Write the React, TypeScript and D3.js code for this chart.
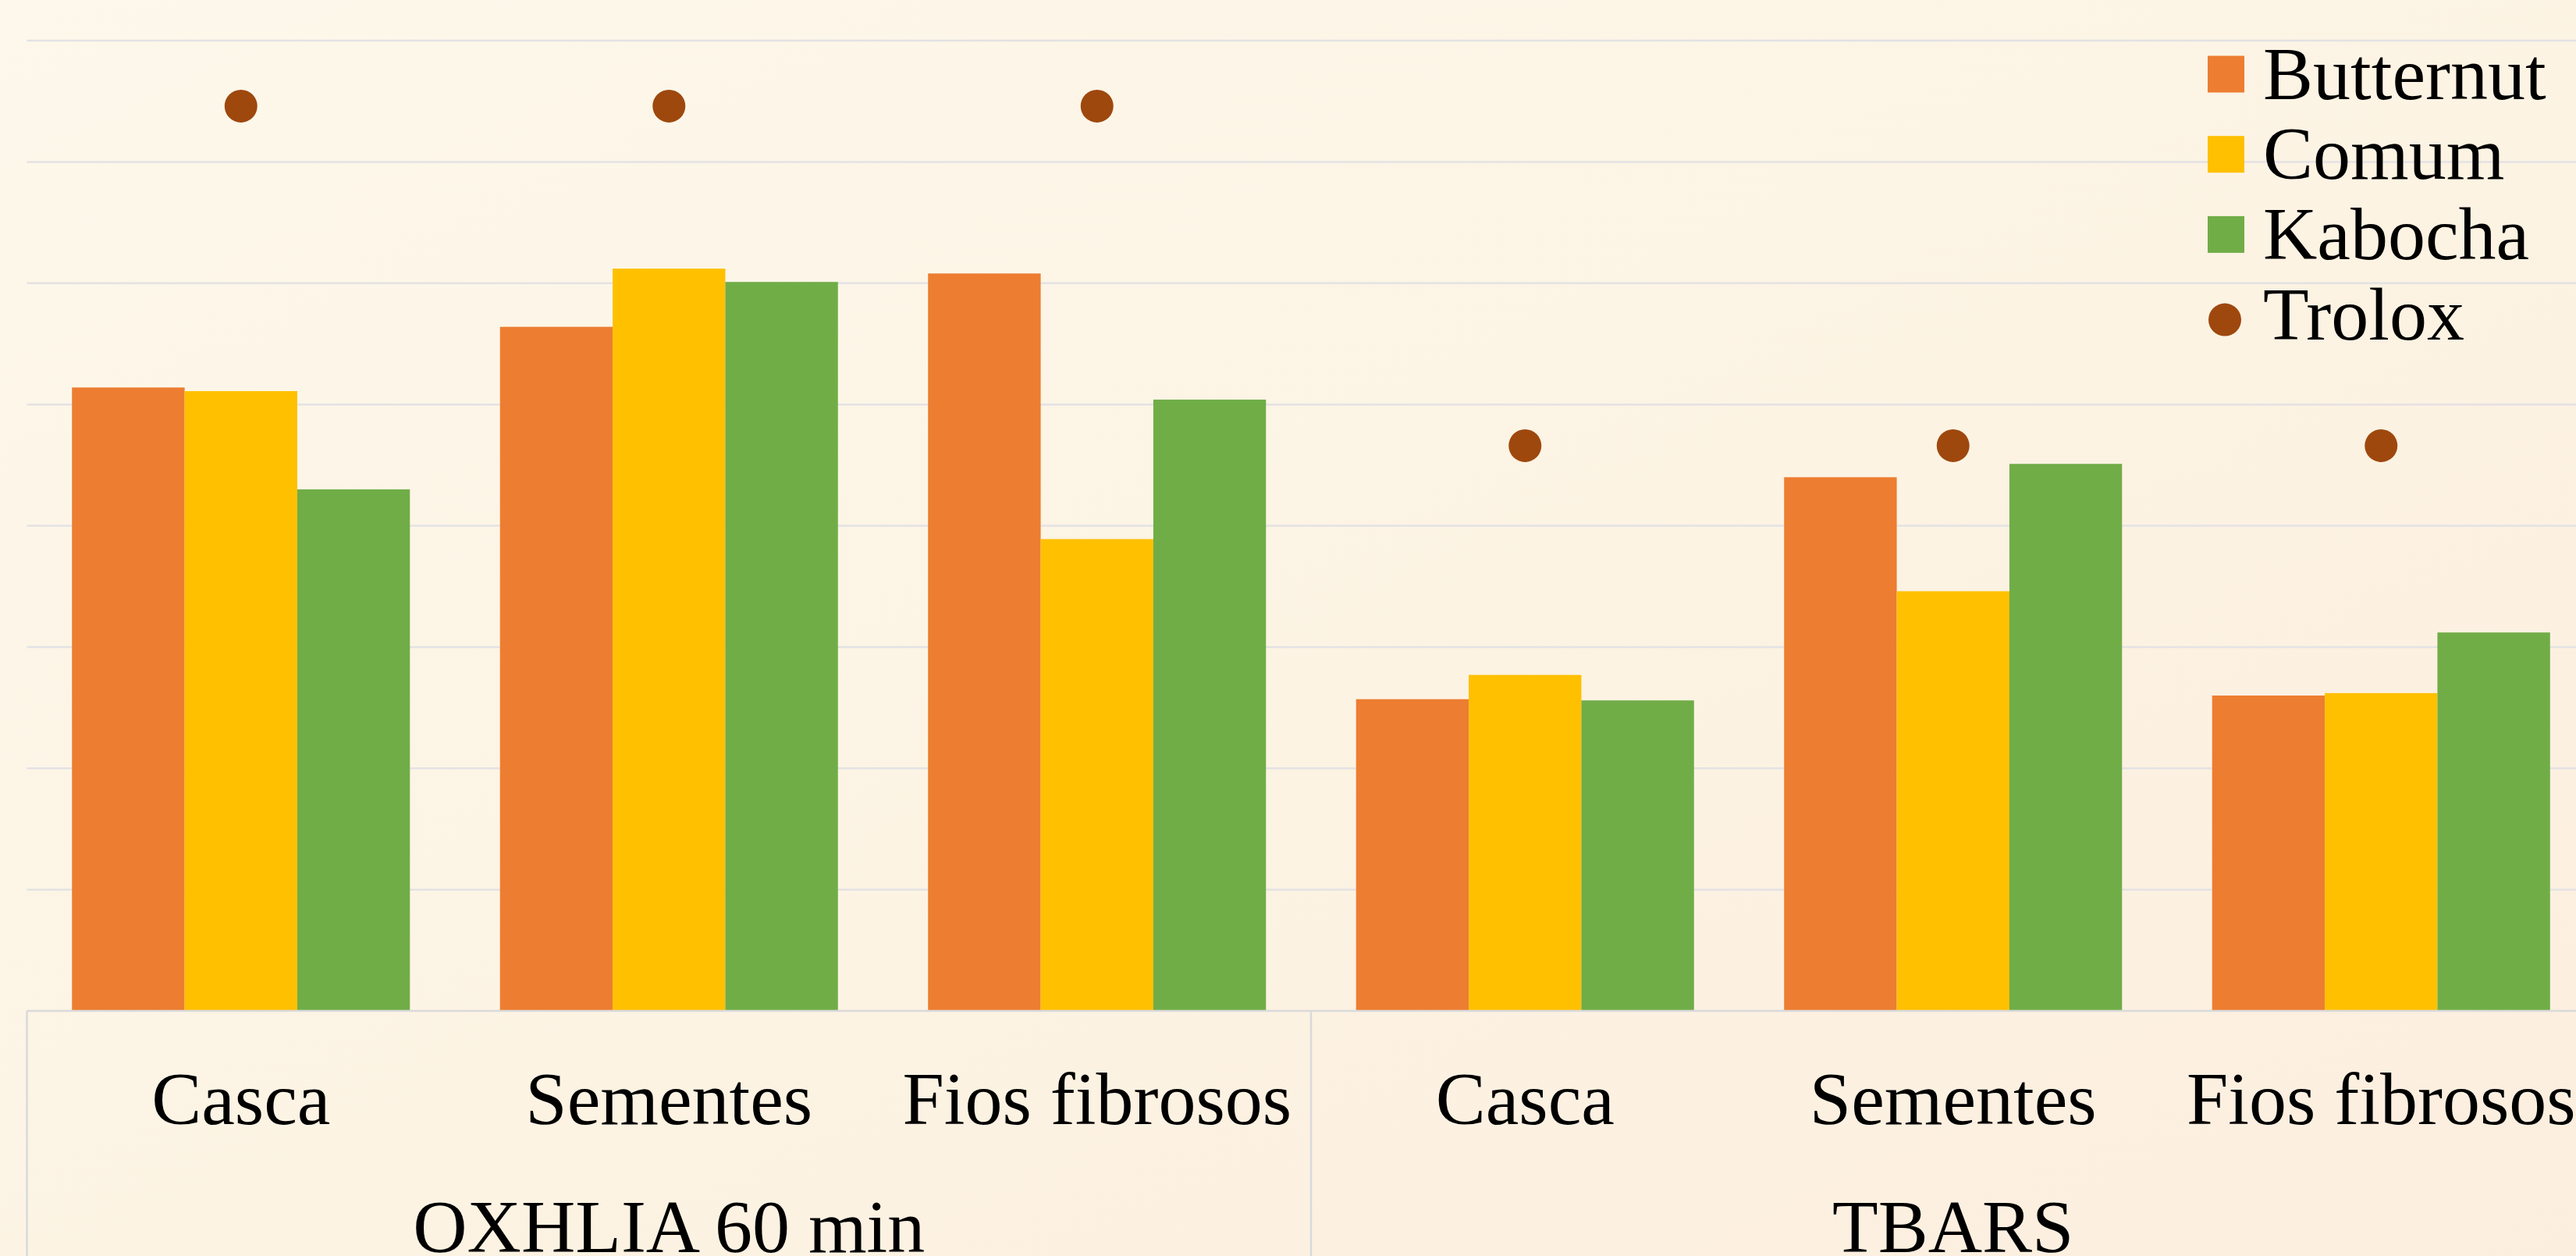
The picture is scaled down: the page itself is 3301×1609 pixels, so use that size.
import * as d3 from 'd3';

// data (gridline = 10 units)
const groups = ['OXHLIA 60 min', 'TBARS'];
const parts = ['Casca', 'Sementes', 'Fios fibrosos'];
const seriesNames = ['Butternut', 'Comum', 'Kabocha'];
const butternut = [51.4, 56.4, 60.8, 25.7, 44.0, 26.0];
const comum = [51.1, 61.2, 38.9, 27.7, 34.6, 26.2];
const kabocha = [43.0, 60.1, 50.4, 25.6, 45.1, 31.2];
const trolox = [74.6, 74.6, 74.6, 46.6, 46.6, 46.6];
const yTicks = [10, 20, 30, 40, 50, 60, 70, 80];

const colors = ['#ED7D31', '#FFC000', '#70AD47'];
const troloxColor = '#9E480E';

const W = 3301;
const H = 1609;
const FONT = '"Liberation Serif", "Times New Roman", serif';

export default function App() {
  const categories = groups.flatMap((g) => parts.map((p) => `${g}|${p}`));
  const values = [butternut, comum, kabocha];

  const plotLeft = 34.5;
  const step = 548.5;
  const baseY = 1295;

  const x = d3.scaleBand<string>()
    .domain(categories)
    .range([plotLeft, plotLeft + step * categories.length])
    .paddingInner(0.2105)
    .paddingOuter(0.2105 / 2);

  const xs = d3.scaleBand<string>()
    .domain(seriesNames)
    .range([0, x.bandwidth()])
    .padding(0);

  const y = d3.scaleLinear().domain([0, 80]).range([baseY, 52]);

  const catCenter = (c: string) => (x(c) ?? 0) + x.bandwidth() / 2;
  const groupStart = (gi: number) => plotLeft + gi * parts.length * step;

  return (
    <div style={{ position: 'fixed', left: 0, top: 0, width: W, height: H, overflow: 'hidden' }}>
      <svg width={W} height={H} style={{ display: 'block' }}>
        <defs>
          <linearGradient id="bg" x1="0" y1="0" x2="1" y2="1">
            <stop offset="0%" stopColor="#FDF8EB" />
            <stop offset="55%" stopColor="#FCF3E3" />
            <stop offset="100%" stopColor="#FCEEDF" />
          </linearGradient>
        </defs>
        <rect width={W} height={H} fill="url(#bg)" />

        {/* gridlines */}
        {yTicks.map((t) => (
          <line key={t} x1={plotLeft} x2={W} y1={y(t)} y2={y(t)} stroke="#E3E2E4" strokeWidth={2.5} />
        ))}

        {/* bars */}
        {categories.map((c, ci) => (
          <g key={c} transform={`translate(${x(c)},0)`}>
            {seriesNames.map((s, si) => (
              <rect
                key={s}
                x={xs(s)}
                y={y(values[si][ci])}
                width={xs.bandwidth()}
                height={baseY - y(values[si][ci])}
                fill={colors[si]}
              />
            ))}
          </g>
        ))}

        {/* Trolox points */}
        {categories.map((c, ci) => (
          <circle key={c} cx={catCenter(c)} cy={y(trolox[ci])} r={21} fill={troloxColor} />
        ))}

        {/* category axis */}
        <line x1={plotLeft} x2={W} y1={baseY} y2={baseY} stroke="#D9D9DC" strokeWidth={2.5} />
        {groups.map((g, gi) => (
          <line key={g} x1={groupStart(gi)} x2={groupStart(gi)} y1={baseY} y2={H} stroke="#D9D9DC" strokeWidth={2.5} />
        ))}
        {categories.map((c) => (
          <text key={c} x={catCenter(c)} y={1440} textAnchor="middle" fontFamily={FONT} fontSize={96} fill="#000">
            {c.split('|')[1]}
          </text>
        ))}
        {groups.map((g, gi) => (
          <text
            key={g}
            x={groupStart(gi) + (parts.length * step) / 2}
            y={1604}
            textAnchor="middle"
            fontFamily={FONT}
            fontSize={96}
            fill="#000"
          >
            {g}
          </text>
        ))}

        {/* legend */}
        <g transform="translate(2829,0)">
          {seriesNames.map((s, i) => (
            <g key={s} transform={`translate(0,${71.5 + i * 102.7})`}>
              <rect width={47} height={47} fill={colors[i]} />
              <text x={71} y={55} fontFamily={FONT} fontSize={96} fill="#000">{s}</text>
            </g>
          ))}
          <g transform={`translate(0,${71.5 + 3 * 102.7})`}>
            <circle cx={22} cy={30} r={21} fill={troloxColor} />
            <text x={71} y={55} fontFamily={FONT} fontSize={96} fill="#000">Trolox</text>
          </g>
        </g>
      </svg>
    </div>
  );
}
